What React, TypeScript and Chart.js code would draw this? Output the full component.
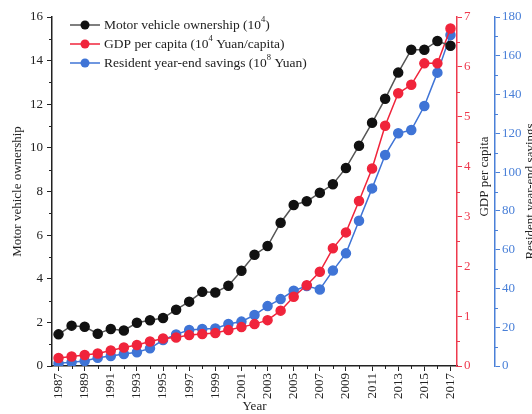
import React, { useEffect, useRef } from 'react';
import { Chart, registerables } from 'chart.js';

Chart.register(...registerables);

const years = ['1987','1988','1989','1990','1991','1992','1993','1994','1995','1996','1997','1998','1999','2000','2001','2002','2003','2004','2005','2006','2007','2008','2009','2010','2011','2012','2013','2014','2015','2016','2017'];
const motorVehicles = [1.45,1.85,1.8,1.48,1.7,1.63,1.98,2.1,2.2,2.58,2.95,3.4,3.37,3.68,4.37,5.1,5.5,6.57,7.38,7.55,7.94,8.33,9.08,10.1,11.15,12.25,13.45,14.5,14.5,14.9,14.68];
const gdpPerCapita = [0.16,0.19,0.22,0.25,0.31,0.37,0.42,0.49,0.55,0.57,0.62,0.64,0.66,0.72,0.78,0.84,0.92,1.11,1.39,1.62,1.89,2.36,2.68,3.31,3.96,4.82,5.47,5.64,6.07,6.07,6.77];
const savings = [1.4,1.9,2.6,4.3,5.2,6.2,7.1,9.1,13.4,16.3,18.6,19.1,19.4,21.7,22.9,26.3,30.9,34.5,38.8,41.3,39.5,49.2,58.1,74.9,91.6,108.8,120,121.7,134.1,151.3,170.7];

const legendParts: [string, string, string][] = [
  ['Motor vehicle ownership (10', '4', ')'],
  ['GDP per capita (10', '4', ' Yuan/capita)'],
  ['Resident year-end savings (10', '8', ' Yuan)'],
];

const BLACK = '#111111';
const BLACK_LINE = '#555555';
const RED = '#f0243b';
const BLUE = '#3f74d6';
const RED_AXIS = '#ee3a4e';
const BLUE_AXIS = '#4a80d8';
const FONT = '"Liberation Serif", "Times New Roman", serif';

const extrasPlugin = {
  id: 'extras',
  afterDraw(chart: any) {
    const ctx = chart.ctx;
    const area = chart.chartArea;
    ctx.save();
    const minor = (scaleId: string, values: number[], color: string, side: number) => {
      const s = chart.scales[scaleId];
      ctx.strokeStyle = color;
      ctx.lineWidth = 1;
      const x0 = side < 0 ? s.right : s.left;
      values.forEach((v) => {
        const y = Math.round(s.getPixelForValue(v)) + 0.5;
        ctx.beginPath();
        ctx.moveTo(x0, y);
        ctx.lineTo(x0 + side * 3, y);
        ctx.stroke();
      });
    };
    minor('y', [1,3,5,7,9,11,13,15], '#222', -1);
    minor('y1', [0.5,1.5,2.5,3.5,4.5,5.5,6.5], RED_AXIS, 1);
    minor('y2', [10,30,50,70,90,110,130,150,170], BLUE_AXIS, 1);
    const xs = chart.scales.x;
    ctx.strokeStyle = '#222';
    years.forEach((_, i) => {
      if (i % 2 === 1) {
        const x = Math.round(xs.getPixelForValue(i)) + 0.5;
        ctx.beginPath();
        ctx.moveTo(x, xs.top);
        ctx.lineTo(x, xs.top + 3);
        ctx.stroke();
      }
    });
    const drawTitle = (text: string, x: number, y: number) => {
      ctx.save();
      ctx.translate(x, y);
      ctx.rotate(-Math.PI / 2);
      ctx.fillStyle = '#222';
      ctx.font = '13px ' + FONT;
      ctx.textAlign = 'center';
      ctx.textBaseline = 'middle';
      ctx.fillText(text, 0, 0);
      ctx.restore();
    };
    const midY = (area.top + area.bottom) / 2;
    drawTitle('GDP per capita', chart.scales.y1.right - 10, midY - 15);
    drawTitle('Resident year-end savings', 531, midY);
    const lx = area.left + 18;
    let ly = area.top + 8;
    chart.data.datasets.forEach((ds: any, i: number) => {
      ctx.strokeStyle = ds.borderColor;
      ctx.lineWidth = 1.5;
      ctx.beginPath();
      ctx.moveTo(lx, ly);
      ctx.lineTo(lx + 30, ly);
      ctx.stroke();
      ctx.fillStyle = ds.pointBackgroundColor;
      ctx.beginPath();
      ctx.arc(lx + 15, ly, 4.5, 0, Math.PI * 2);
      ctx.fill();
      const [a, sup, b] = legendParts[i];
      ctx.fillStyle = '#222';
      ctx.textAlign = 'left';
      ctx.textBaseline = 'middle';
      ctx.font = '13.5px ' + FONT;
      let tx = lx + 34;
      ctx.fillText(a, tx, ly);
      tx += ctx.measureText(a).width;
      ctx.font = '8.5px ' + FONT;
      ctx.fillText(sup, tx, ly - 5);
      tx += ctx.measureText(sup).width;
      ctx.font = '13.5px ' + FONT;
      ctx.fillText(b, tx, ly);
      ly += 19;
    });
    ctx.restore();
  },
};

export default function App() {
  const ref = useRef<HTMLCanvasElement>(null);
  useEffect(() => {
    if (!ref.current) return;
    const tickFont = { family: FONT, size: 13 };
    const chart = new Chart(ref.current, {
      type: 'line',
      data: {
        labels: years,
        datasets: [
          {
            label: 'Motor vehicle ownership',
            data: motorVehicles,
            yAxisID: 'y',
            borderColor: BLACK_LINE,
            backgroundColor: BLACK,
            pointBackgroundColor: BLACK,
            pointBorderColor: BLACK,
            pointRadius: 4.5,
            borderWidth: 1.5,
            tension: 0,
          },
          {
            label: 'GDP per capita',
            data: gdpPerCapita,
            yAxisID: 'y1',
            borderColor: RED,
            backgroundColor: RED,
            pointBackgroundColor: RED,
            pointBorderColor: RED,
            pointRadius: 4.5,
            borderWidth: 1.5,
            tension: 0,
          },
          {
            label: 'Resident year-end savings',
            data: savings,
            yAxisID: 'y2',
            borderColor: BLUE,
            backgroundColor: BLUE,
            pointBackgroundColor: BLUE,
            pointBorderColor: BLUE,
            pointRadius: 4.5,
            borderWidth: 1.5,
            tension: 0,
          },
        ],
      },
      options: {
        animation: false,
        responsive: false,
        layout: { padding: { top: 17, left: 0, right: 0, bottom: 0 } },
        plugins: { legend: { display: false }, tooltip: { enabled: false } },
        scales: {
          x: {
            type: 'category',
            offset: true,
            grid: {
              offset: false,
              drawOnChartArea: false,
              tickLength: 5,
              tickColor: (c: any) => (c.index % 2 === 0 ? '#222' : 'rgba(0,0,0,0)'),
            },
            border: { color: '#222', width: 1.5 },
            ticks: {
              autoSkip: false,
              minRotation: 90,
              maxRotation: 90,
              padding: 2,
              color: '#222',
              font: tickFont,
              callback: (_v: any, i: number) => (i % 2 === 0 ? years[i] : ''),
            },
            title: { display: true, text: 'Year', color: '#222', font: { family: FONT, size: 13 }, padding: { top: 0, bottom: 0 } },
            afterFit: (s: any) => { s.height = 48; },
          },
          y: {
            position: 'left',
            min: 0,
            max: 16,
            ticks: { stepSize: 2, color: '#222', font: tickFont, padding: 4 },
            grid: { drawOnChartArea: false, tickLength: 5, tickColor: '#222' },
            border: { color: '#222', width: 1.5 },
            title: { display: true, text: 'Motor vehicle ownership', color: '#222', font: { family: FONT, size: 13 }, padding: { top: 10, bottom: 0 } },
            afterFit: (s: any) => { s.width = 52; },
          },
          y1: {
            position: 'right',
            min: 0,
            max: 7,
            ticks: { stepSize: 1, color: RED_AXIS, font: tickFont, padding: 2 },
            grid: { drawOnChartArea: false, tickLength: 5, tickColor: RED_AXIS },
            border: { color: RED_AXIS, width: 1.5 },
            afterFit: (s: any) => { s.width = 38; },
          },
          y2: {
            position: 'right',
            min: 0,
            max: 180,
            ticks: { stepSize: 20, color: BLUE_AXIS, font: tickFont, padding: 2 },
            grid: { drawOnChartArea: false, tickLength: 5, tickColor: BLUE_AXIS },
            border: { color: BLUE_AXIS, width: 1.5 },
            afterFit: (s: any) => { s.width = 37; },
          },
        },
      },
      plugins: [extrasPlugin],
    } as any);
    return () => chart.destroy();
  }, []);
  return (
    <div style={{ position: 'fixed', left: 0, top: 0, width: 532, height: 414, background: '#fff' }}>
      <canvas ref={ref} width={532} height={414} style={{ width: 532, height: 414 }} />
    </div>
  );
}
